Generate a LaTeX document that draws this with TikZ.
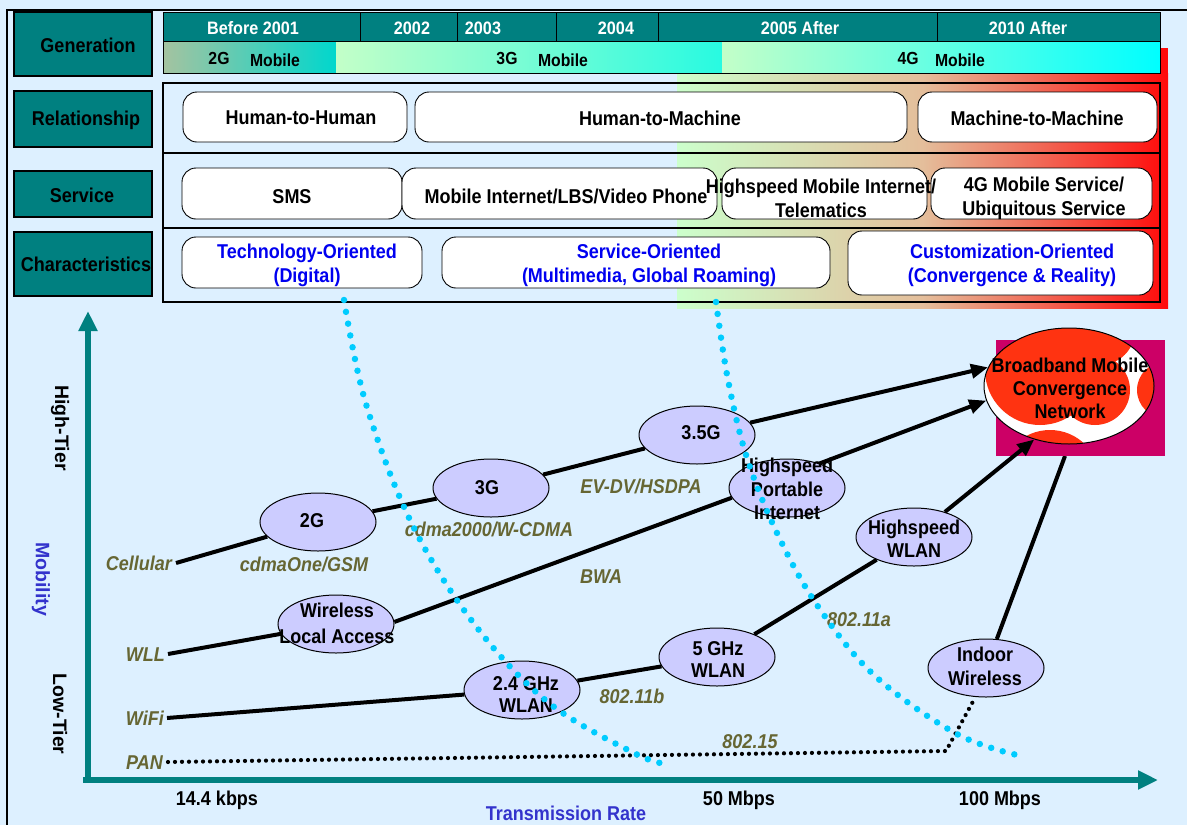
\documentclass[tikz,border=0pt]{standalone}
\usepackage{fontspec}
\setmainfont{Liberation Sans}[FakeStretch=0.9]
\newfontfamily\rotfont{Liberation Sans}
\usetikzlibrary{arrows.meta,shapes.geometric}
\definecolor{bgc}{RGB}{221,240,255}
\definecolor{tealc}{RGB}{0,128,128}
\definecolor{lav}{RGB}{204,204,255}
\definecolor{olivec}{RGB}{102,102,51}
\definecolor{bluec}{RGB}{0,0,240}
\definecolor{mobc}{RGB}{51,51,204}
\definecolor{cyanc}{RGB}{0,204,255}
\definecolor{magc}{RGB}{204,0,102}
\definecolor{bbred}{RGB}{255,51,17}
\definecolor{gA}{RGB}{204,255,204}
\definecolor{gM}{RGB}{228,190,155}
\definecolor{redc}{RGB}{255,10,10}
\definecolor{s2a}{RGB}{165,195,160}
\definecolor{s2b}{RGB}{0,215,205}
\definecolor{s3a}{RGB}{195,255,200}
\definecolor{s3b}{RGB}{40,250,225}
\definecolor{s4b}{RGB}{0,255,255}
\begin{document}
\begin{tikzpicture}[x=1pt,y=-1pt,
  tx/.style={font=\bfseries\fontsize{20}{23}\selectfont, inner sep=0pt, align=center},
  one/.style={font=\bfseries\fontsize{20}{23}\selectfont, inner sep=0pt, text height=14pt, text depth=0pt},
  hdrtx/.style={font=\bfseries\fontsize{18}{21}\selectfont, inner sep=0pt, text height=12.8pt, text depth=0pt, text=white},
  striptx/.style={font=\bfseries\fontsize{17.5}{20}\selectfont, inner sep=0pt, text height=12pt, text depth=0pt},
  hdr/.style={draw=black, line width=1.3pt, fill=tealc, minimum width=138pt, inner sep=0pt},
  rbox/.style={draw=black, line width=0.9pt, fill=white, rounded corners=14pt, inner sep=0pt},
  ell/.style={ellipse, draw=black, line width=1pt, fill=lav, minimum width=116pt, minimum height=58pt, inner sep=0pt},
  ol/.style={font=\bfseries\itshape\fontsize{20}{23}\selectfont, text=olivec, inner sep=0pt, text height=14pt, text depth=0pt},
  rot/.style={font=\rotfont\bfseries\fontsize{19.5}{22}\selectfont, inner sep=0pt, rotate=-90},
  conn/.style={line width=4pt},
  arr/.style={line width=4pt, -{Triangle[length=17pt,width=14pt]}},
  cyandot/.style={cyanc, line width=6.5pt, dash pattern=on 0pt off 12pt, line cap=round},
  pandot/.style={line width=4.2pt, dash pattern=on 0pt off 7pt, line cap=round},
  axis/.style={tealc, line width=6.5pt, -{Triangle[length=20pt,width=18pt]}},
]
\useasboundingbox (0,0) rectangle (1187,825);
\fill[bgc] (0,0) rectangle (1187,825);
\draw[line width=1.6pt] (7,826) -- (7,10) -- (1188,10);

% gradient region
\fill[redc] (1158,48) rectangle (1168,308);
\shade[left color=gA, right color=redc, middle color=gM] (677,73) rectangle (1168,308);

% main panel
\draw[line width=1.2pt] (163,83) rectangle (1160,302);
\draw[line width=1.2pt] (163,153) -- (1160,153) (163,228) -- (1160,228);

% top header row
\fill[tealc] (163,12) rectangle (1160,41);
\draw[line width=1pt] (163,12) rectangle (1160,41);
\foreach \xx in {360,457,556,658,937} \draw[line width=1pt] (\xx,12) -- (\xx,41);
\shade[left color=s2a, right color=s2b] (163,41) rectangle (336,73);
\shade[left color=s3a, right color=s3b] (336,41) rectangle (722,73);
\shade[left color=s3a, right color=s4b] (722,41) rectangle (1160,73);
\draw[line width=1pt] (163,41) rectangle (1160,73);

\node[hdrtx] (y01) at (253,28) {Before 2001};
\node[hdrtx] (y02) at (412,28) {2002};
\node[hdrtx] (y03) at (483,28) {2003};
\node[hdrtx] (y04) at (616,28) {2004};
\node[hdrtx] (y05) at (800,28) {2005 After};
\node[hdrtx] (y10) at (1028,28) {2010 After};
\node[striptx] (m2g) at (219,58) {2G};
\node[striptx] (m2m) at (275,60) {Mobile};
\node[striptx] (m3g) at (507,58) {3G};
\node[striptx] (m3m) at (563,60) {Mobile};
\node[striptx] (m4g) at (908,58) {4G};
\node[striptx] (m4m) at (960,60) {Mobile};

% left header boxes
\node[hdr, minimum height=64pt] (gen) at (83,44) {};
\node[hdr, minimum height=56pt] (rel) at (83,119) {};
\node[hdr, minimum height=46pt] (svc) at (83,194) {};
\node[hdr, minimum height=64pt] (chr) at (83,264) {};
\node[one] (gen-t) at (88,45) {Generation};
\node[one] (rel-t) at (86,118) {Relationship};
\node[one] (svc-t) at (82,195) {Service};
\node[one] (chr-t) at (86,264) {Characteristics};

% rounded boxes
\node[rbox, minimum width=224pt, minimum height=50pt] (hh) at (295,117) {};
\node[rbox, minimum width=492pt, minimum height=50pt] (hm) at (661,117) {};
\node[rbox, minimum width=239pt, minimum height=50pt] (mm) at (1037.5,117) {};
\node[rbox, minimum width=220pt, minimum height=51pt] (sms) at (292,193.5) {};
\node[rbox, minimum width=315pt, minimum height=51pt] (mi) at (559.5,193.5) {};
\node[rbox, minimum width=205pt, minimum height=51pt] (hmi) at (824.5,193.5) {};
\node[rbox, minimum width=221pt, minimum height=51pt] (g4s) at (1041.5,193.5) {};
\node[rbox, minimum width=240pt, minimum height=51pt] (tech) at (302,262.5) {};
\node[rbox, minimum width=388pt, minimum height=51pt] (serv) at (636,262.5) {};
\node[rbox, minimum width=305pt, minimum height=64pt] (cust) at (1000.5,263) {};

\node[one] (hh-t) at (301,117) {Human-to-Human};
\node[one] (hm-t) at (660,118) {Human-to-Machine};
\node[one] (mm-t) at (1037,118) {Machine-to-Machine};
\node[one] (sms-t) at (292,196) {SMS};
\node[one] (mi-t) at (566,196) {Mobile Internet/LBS/Video Phone};
\node[tx, font=\bfseries\fontsize{20}{24}\selectfont] (hmi-t) at (821,198) {Highspeed Mobile Internet/\\Telematics};
\node[tx, font=\bfseries\fontsize{20}{24}\selectfont] (g4s-t) at (1044,198) {4G Mobile Service/\\Ubiquitous Service};
\node[tx, text=bluec, font=\bfseries\fontsize{20}{24}\selectfont] (tech-t) at (307,265) {Technology-Oriented\\(Digital)};
\node[tx, text=bluec, font=\bfseries\fontsize{20}{24}\selectfont] (serv-t) at (649,265) {Service-Oriented\\(Multimedia, Global Roaming)};
\node[tx, text=bluec, font=\bfseries\fontsize{20}{24}\selectfont] (cust-t) at (1012,265) {Customization-Oriented\\(Convergence \& Reality)};

% axes
\coordinate (yb) at (88,783);
\coordinate (yt) at (88,311);
\coordinate (xl) at (83,780);
\coordinate (xr) at (1158,780);
\draw[axis] (yb) -- (yt);
\draw[axis] (xl) -- (xr);

\node[rot] (hightier) at (60,428) {High-Tier};
\node[rot, text=mobc] (mobility) at (41,579) {Mobility};
\node[rot] (lowtier) at (60,714) {Low-Tier};
\node[one] (r14) at (217,798) {14.4 kbps};
\node[one] (r50) at (739,798) {50 Mbps};
\node[one] (r100) at (1000,798) {100 Mbps};
\node[one, text=mobc] (trate) at (566,813) {Transmission Rate};

% left labels
\node[ol, anchor=east] (cel) at (172,563) {Cellular};
\node[ol, anchor=east] (wll) at (165,654) {WLL};
\node[ol, anchor=east] (wifi) at (164,718) {WiFi};
\node[ol, anchor=east] (pan) at (163,762) {PAN};

% ellipses
\node[ell] (g2) at (318,522) {};
\node[ell] (g3) at (491,488) {};
\node[ell] (g35) at (697,435) {};
\node[ell] (hpi) at (787,488) {};
\node[ell] (hsw) at (914,537) {};
\node[ell] (wla) at (336,624) {};
\node[ell] (w24) at (522,690) {};
\node[ell] (w5) at (717,657) {};
\node[ell] (iw) at (986,668) {};

% lines
\coordinate (iwend) at (1065,456);
\coordinate (pk) at (946,751);
\draw[conn] (iw) -- (iwend);
\draw[conn] ([xshift=4pt]cel.east) -- (g2);
\draw[conn] (g2) -- (g3);
\draw[conn] (g3) -- (g35);
\draw[conn] ([xshift=3pt]wll.east) -- (wla);
\draw[conn] (wla.2) -- (hpi.190);
\draw[conn] ([xshift=3pt]wifi.east) -- (w24);
\draw[conn] (w24) -- (w5);
\draw[conn] (w5) -- (hsw);
\draw[pandot] ([xshift=5pt]pan.east) -- (pk) -- (iw.250);

% broadband node
\node[fill=magc, minimum width=169pt, minimum height=116pt, inner sep=0pt] (bbrect) at (1080.5,398) {};
\begin{scope}
  \clip (1069,386) ellipse [x radius=85pt, y radius=58pt];
  \fill[white] (980,320) rectangle (1160,450);
  \fill[bbred] (1040,370) circle[radius=55pt] (1100,330) circle[radius=35pt]
     (1165,390) circle[radius=28pt] (1095,390) circle[radius=35pt]
     (1050,480) circle[radius=50pt] (1150,470) circle[radius=35pt]
     (975,440) circle[radius=22pt];
\end{scope}
\node[ellipse, draw=black, line width=1pt, minimum width=170pt, minimum height=116pt, inner sep=0pt] (bb) at (1069,386) {};

\draw[arr] (g35) -- (bb.167);
\draw[arr] (hpi.37) -- (bb.190);
\draw[arr] (hsw) -- (bb.237);

% ellipse texts
\node[one] (g2-t) at (312,520) {2G};
\node[one] (g3-t) at (487,487) {3G};
\node[one] (g35-t) at (701,432) {3.5G};
\node[tx, font=\bfseries\fontsize{20}{23.5}\selectfont] (hpi-t) at (787,489) {Highspeed\\Portable\\Internet};
\node[tx] (hsw-t) at (914,539) {Highspeed\\WLAN};
\node[tx, font=\bfseries\fontsize{20}{26}\selectfont] (wla-t) at (337,623) {Wireless\\Local Access};
\node[tx, font=\bfseries\fontsize{20}{22}\selectfont] (w24-t) at (526,695) {2.4 GHz\\WLAN};
\node[tx, font=\bfseries\fontsize{20}{22}\selectfont] (w5-t) at (718,660) {5 GHz\\WLAN};
\node[tx, font=\bfseries\fontsize{20}{24}\selectfont] (iw-t) at (985,666) {Indoor\\Wireless};
\node[tx] (bb-t) at (1070,388) {Broadband Mobile\\Convergence\\Network};

% olive labels
\node[ol] (l1) at (304,564) {cdmaOne/GSM};
\node[ol] (l2) at (489,529) {cdma2000/W-CDMA};
\node[ol] (l3) at (641,486) {EV-DV/HSDPA};
\node[ol] (l4) at (601,576) {BWA};
\node[ol] (l5) at (859,619) {802.11a};
\node[ol] (l6) at (632,696) {802.11b};
\node[ol] (l7) at (750,741) {802.15};

% cyan dotted curves
\draw[cyandot] plot[smooth, tension=0.6] coordinates {(344,300) (366,404) (412,524) (475,625) (549,703) (636,754) (668,764)};
\draw[cyandot] plot[smooth, tension=0.6] coordinates {(716,302) (728,380) (747,458) (777,533) (817,605) (874,675) (955,733) (1017,755)};
\end{tikzpicture}
\end{document}
